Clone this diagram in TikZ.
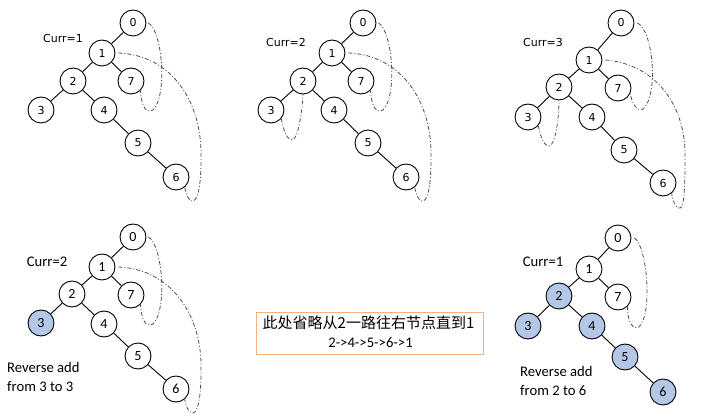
\documentclass[tikz,border=0pt]{standalone}
\usepackage{fontspec}
\setmainfont{DejaVu Sans}
\newfontfamily\carl{Carlito}
\newfontfamily\cjk{Noto Sans CJK SC}
\definecolor{nodeblue}{HTML}{B4C7E7}
\definecolor{curvegray}{HTML}{505050}
\definecolor{boxorange}{HTML}{F4B183}
\tikzset{
  tn/.style={circle, draw=black, fill=white, line width=0.9pt, minimum size=26pt, inner sep=0pt, font=\fontsize{11}{13}\selectfont},
  bn/.style={tn, font=\carl\fontsize{14}{16}\selectfont},
  bnf/.style={bn, fill=nodeblue},
  treeedge/.style={line width=0.9pt},
  thread/.style={draw=curvegray, line width=0.8pt, dash pattern=on 4pt off 2pt on 1pt off 2pt},
  toplbl/.style={font=\fontsize{11}{13}\selectfont, inner sep=0pt},
  botlbl/.style={font=\carl\fontsize{14.67}{19}\selectfont, inner sep=0pt, align=left},
}
\begin{document}
\begin{tikzpicture}[x=1pt,y=-1pt]
\useasboundingbox (0,0) rectangle (706,419);
\fill[white] (0,0) rectangle (706,419);

% ---------- Panel 1 ----------
\begin{scope}[shift={(102,53)}]
  \node[tn] (a0) at (31,-30) {0};
  \node[tn] (a1) at (0,0) {1};
  \node[tn] (a2) at (-29,28) {2};
  \node[tn] (a7) at (29,28) {7};
  \node[tn] (a3) at (-61,57) {3};
  \node[tn] (a4) at (2,57) {4};
  \node[tn] (a5) at (36,90) {5};
  \node[tn] (a6) at (74,124) {6};
  \draw[treeedge] (a0)--(a1) (a1)--(a2) (a1)--(a7) (a2)--(a3) (a2)--(a4) (a4)--(a5) (a5)--(a6);
  \draw[thread] ([xshift=2pt]a0.east) .. controls (60,-23) and (66,42) .. (51,57) .. controls (42,62) and (39,48) .. (a7.-45);
  \draw[thread] ([xshift=3pt]a1.east) .. controls (68,2) and (101,47) .. (99,107) .. controls (99,140) and (94,149) .. (90,148) .. controls (86,147) and (84,141) .. (a6.-50);
  \node[toplbl] (la) at (-39,-14) {Curr=1};
\end{scope}

% ---------- Panel 2 ----------
\begin{scope}[shift={(332,53)}]
  \node[tn] (b0) at (31,-30) {0};
  \node[tn] (b1) at (0,0) {1};
  \node[tn] (b2) at (-29,28) {2};
  \node[tn] (b7) at (29,28) {7};
  \node[tn] (b3) at (-61,57) {3};
  \node[tn] (b4) at (2,57) {4};
  \node[tn] (b5) at (36,90) {5};
  \node[tn] (b6) at (74,124) {6};
  \draw[treeedge] (b0)--(b1) (b1)--(b2) (b1)--(b7) (b2)--(b3) (b2)--(b4) (b4)--(b5) (b5)--(b6);
  \draw[thread] ([xshift=2pt]b0.east) .. controls (60,-23) and (66,42) .. (51,57) .. controls (42,62) and (39,48) .. (b7.-45);
  \draw[thread] ([xshift=3pt]b1.east) .. controls (68,2) and (101,47) .. (99,107) .. controls (99,140) and (94,149) .. (90,148) .. controls (86,147) and (84,141) .. (b6.-50);
  \draw[thread] (b3.-40) .. controls (-48,80) and (-44,87) .. (-40,87) .. controls (-34,87) and (-30,60) .. (b2.south);
  \node[toplbl] (lb) at (-46,-11) {Curr=2};
\end{scope}

% ---------- Panel 3 ----------
\begin{scope}[shift={(589,60)}]
  \node[tn] (c0) at (32,-37) {0};
  \node[tn] (c1) at (0,0) {1};
  \node[tn] (c2) at (-30,27) {2};
  \node[tn] (c7) at (29,28) {7};
  \node[tn] (c3) at (-61,57) {3};
  \node[tn] (c4) at (3,57) {4};
  \node[tn] (c5) at (35,90) {5};
  \node[tn] (c6) at (74,123) {6};
  \draw[treeedge] (c0)--(c1) (c1)--(c2) (c1)--(c7) (c2)--(c3) (c2)--(c4) (c4)--(c5) (c5)--(c6);
  \draw[thread] ([xshift=3pt]c0.east) .. controls (64,-30) and (70,35) .. (54,49) .. controls (47,52) and (43,42) .. (c7.-25);
  \draw[thread] ([xshift=3pt]c1.east) .. controls (66,4) and (98,45) .. (96,100) .. controls (96,140) and (94,149) .. (90,148) .. controls (86,147) and (84,141) .. (c6.-50);
  \draw[thread] (c3.-40) .. controls (-48,80) and (-44,86) .. (-40,86) .. controls (-34,86) and (-30,60) .. (c2.south);
  \node[toplbl] (lc) at (-46,-17) {Curr=3};
\end{scope}

% ---------- Panel 4 ----------
\begin{scope}[shift={(102,267)}]
  \node[bn] (d0) at (31,-30) {0};
  \node[bn] (d1) at (0,0) {1};
  \node[bn] (d2) at (-30,27) {2};
  \node[bn] (d7) at (29,28) {7};
  \node[bnf] (d3) at (-61,56) {3};
  \node[bn] (d4) at (2,57) {4};
  \node[bn] (d5) at (36,89) {5};
  \node[bn] (d6) at (74,122) {6};
  \draw[treeedge] (d0)--(d1) (d1)--(d2) (d1)--(d7) (d2)--(d3) (d2)--(d4) (d4)--(d5) (d5)--(d6);
  \draw[thread] ([xshift=2pt]d0.east) .. controls (60,-23) and (66,42) .. (51,57) .. controls (42,62) and (39,48) .. (d7.-45);
  \draw[thread] ([xshift=3pt]d1.east) .. controls (68,2) and (101,47) .. (99,105) .. controls (99,138) and (94,147) .. (90,146) .. controls (86,145) and (84,139) .. (d6.-50);
  \node[botlbl] (ld) at (-55,-5) {Curr=2};
\end{scope}
\node[botlbl, anchor=west] (rd) at (7,376.5) {Reverse add\\from 3 to 3};

% ---------- Middle box ----------
\node[draw=boxorange, line width=0.9pt, minimum width=227pt, minimum height=42pt, inner sep=0pt] (box) at (369.5,333) {};
\node[inner sep=0pt, font=\cjk\fontsize{15}{18}\selectfont] (t1) at (368.5,323) {此处省略从2一路往右节点直到1};
\node[inner sep=0pt, font=\carl\fontsize{14.67}{18}\selectfont] (t2) at (370.5,343) {2->4->5->6->1};

% ---------- Panel 6 ----------
\begin{scope}[shift={(589,269)}]
  \node[bn] (f0) at (29,-31) {0};
  \node[bn] (f1) at (0,0) {1};
  \node[bnf] (f2) at (-30,27) {2};
  \node[bn] (f7) at (29,28) {7};
  \node[bnf] (f3) at (-61,57) {3};
  \node[bnf] (f4) at (3,57) {4};
  \node[bnf] (f5) at (36,88) {5};
  \node[bnf] (f6) at (74,123) {6};
  \draw[treeedge] (f0)--(f1) (f1)--(f2) (f1)--(f7) (f2)--(f3) (f2)--(f4) (f4)--(f5) (f5)--(f6);
  \draw[thread] ([xshift=3pt]f0.east) .. controls (58,-23) and (64,44) .. (50,58) .. controls (42,62) and (38,48) .. (f7.-45);
  \node[botlbl] (lf) at (-46,-7) {Curr=1};
\end{scope}
\node[botlbl, anchor=west] (rf) at (520,380.5) {Reverse add\\from 2 to 6};
\end{tikzpicture}
\end{document}
